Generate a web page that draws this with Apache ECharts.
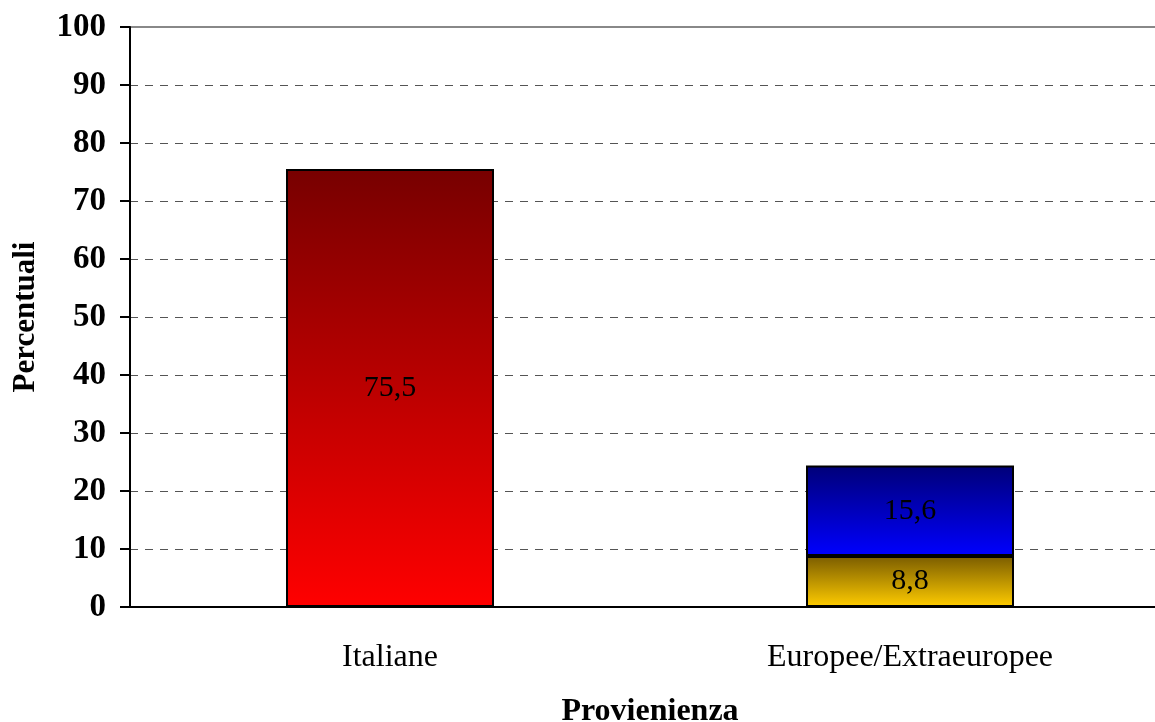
<!DOCTYPE html>
<html>
<head>
<meta charset="utf-8">
<script src="https://cdn.jsdelivr.net/npm/echarts@6/dist/echarts.min.js"></script>
<style>
html,body{margin:0;padding:0;background:#fff;}
#c{width:1155px;height:722px;}
</style>
</head>
<body>
<div id="c"></div>
<script>
const categories = ['Italiane', 'Europee/Extraeuropee'];
const italianeValues = [75.5, '-'];
const europeeValues = ['-', 8.8];
const extraeuropeeValues = ['-', 15.6];
const yTicks = [0, 10, 20, 30, 40, 50, 60, 70, 80, 90, 100];

const font = '"Liberation Serif", "Times New Roman", serif';
function grad(top, bottom) {
  return new echarts.graphic.LinearGradient(0, 0, 0, 1, [
    { offset: 0, color: top }, { offset: 1, color: bottom }
  ]);
}
const fmt = p => String(p.value).replace('.', ',');
const labelCfg = { show: true, position: 'inside', formatter: fmt, color: '#000', fontFamily: font, fontSize: 30 };

const splitColors = yTicks.map((v, i) => i === yTicks.length - 1 ? 'rgba(0,0,0,0)' : '#555');

const chart = echarts.init(document.getElementById('c'));
chart.setOption({
  animation: false,
  backgroundColor: '#fff',
  grid: { left: 130, top: 27, width: 1040, height: 580, outerBoundsMode: 'none', containLabel: false,
          show: true, borderColor: '#888', borderWidth: 2, backgroundColor: 'transparent' },
  xAxis: {
    type: 'category',
    data: categories,
    name: 'Provienienza',
    nameLocation: 'middle',
    nameGap: 89,
    nameTextStyle: { fontFamily: font, fontWeight: 'bold', fontSize: 32, color: '#000' },
    axisLine: { lineStyle: { color: '#000', width: 2 } },
    axisTick: { length: 8, lineStyle: { color: '#000', width: 2 } },
    axisLabel: { fontFamily: font, fontSize: 32, color: '#000', margin: 35 },
    splitLine: { show: false }
  },
  yAxis: {
    type: 'value',
    min: 0, max: 100, interval: 10,
    name: 'Percentuali',
    nameLocation: 'middle',
    nameGap: 89,
    nameRotate: 90,
    nameTextStyle: { fontFamily: font, fontWeight: 'bold', fontSize: 31, color: '#000' },
    axisLine: { show: true, lineStyle: { color: '#000', width: 2 } },
    axisTick: { show: true, length: 10, lineStyle: { color: '#000', width: 2 } },
    axisLabel: { fontFamily: font, fontWeight: 'bold', fontSize: 33, color: '#000', margin: 24 },
    splitLine: { show: true, lineStyle: { color: splitColors, width: 1, type: [8, 7] } }
  },
  series: [
    { name: 'Italiane', type: 'bar', stack: 's', barWidth: '40%', data: italianeValues,
      itemStyle: { color: grad('#770000', '#ff0000'), borderColor: '#000', borderWidth: 2 }, label: labelCfg },
    { name: 'Europee', type: 'bar', stack: 's', barWidth: '40%', data: europeeValues,
      itemStyle: { color: grad('#7a5c00', '#ffcc00'), borderColor: '#000', borderWidth: 2 }, label: labelCfg },
    { name: 'Extraeuropee', type: 'bar', stack: 's', barWidth: '40%', data: extraeuropeeValues,
      itemStyle: { color: grad('#000078', '#0000ff'), borderColor: '#000', borderWidth: 2 }, label: labelCfg }
  ]
});
</script>
</body>
</html>
